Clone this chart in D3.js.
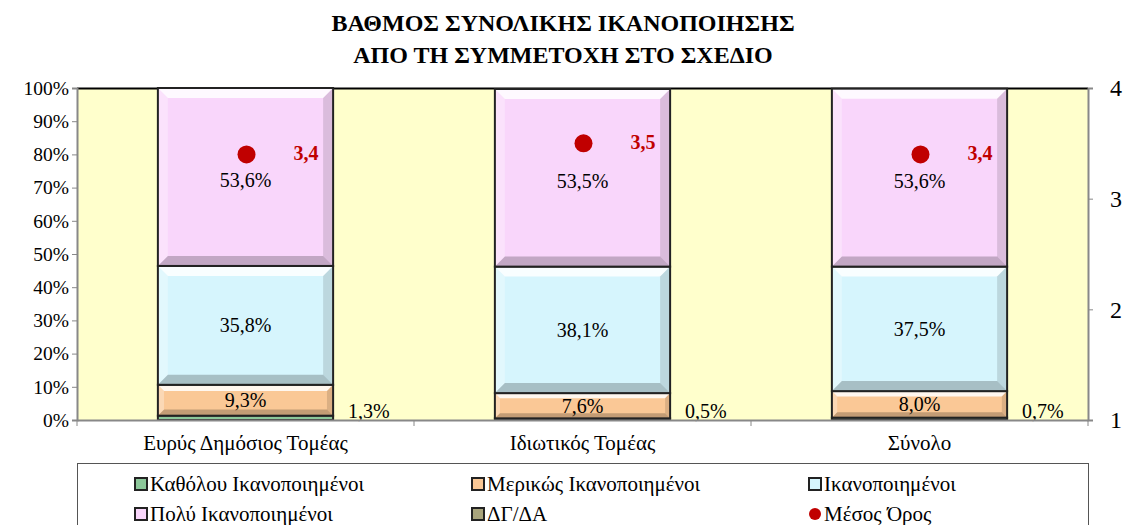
<!DOCTYPE html>
<html>
<head>
<meta charset="utf-8">
<script src="https://cdn.jsdelivr.net/npm/d3@7"></script>
<style>
body { margin: 0; background: #fff; }
</style>
</head>
<body>
<svg id="chart"></svg>
<script>
const categories = ["Ευρύς Δημόσιος Τομέας", "Ιδιωτικός Τομέας", "Σύνολο"];
const seriesNames = ["Καθόλου Ικανοποιημένοι", "Μερικώς Ικανοποιημένοι", "Ικανοποιημένοι", "Πολύ Ικανοποιημένοι", "ΔΓ/ΔΑ"];
const katholou = [1.3, 0.5, 0.7];
const merikos = [9.3, 7.6, 8.0];
const ikanopoiimenoi = [35.8, 38.1, 37.5];
const poly = [53.6, 53.5, 53.6];
const dgda = [0, 0, 0];
const mesosOros = [3.4, 3.5, 3.4];
const leftTicks = [0, 10, 20, 30, 40, 50, 60, 70, 80, 90, 100];
const rightTicks = [1, 2, 3, 4];

const colors = ["#8cc79a", "#fac896", "#d6f5fd", "#f9d6fb", "#a8a47c"];
const width = 1126, height = 525;
const margin = {top: 88, right: 38, bottom: 105, left: 77};
const w = width - margin.left - margin.right;
const h = height - margin.top - margin.bottom;
const serif = "Liberation Serif";

const loc = d3.formatLocale({decimal: ",", thousands: ".", grouping: [3], currency: ["", "€"]});
const fmt = loc.format(".1f");

const svg = d3.select("#chart").attr("width", width).attr("height", height);

// title
svg.append("text").attr("x", 563).attr("y", 31).attr("text-anchor", "middle")
	.style("font-size", "24px").style("font-weight", "bold").text("ΒΑΘΜΟΣ ΣΥΝΟΛΙΚΗΣ ΙΚΑΝΟΠΟΙΗΣΗΣ");
svg.append("text").attr("x", 563).attr("y", 63).attr("text-anchor", "middle")
	.style("font-size", "24px").style("font-weight", "bold").text("ΑΠΟ ΤΗ ΣΥΜΜΕΤΟΧΗ ΣΤΟ ΣΧΕΔΙΟ");

const g = svg.append("g").attr("transform", `translate(${margin.left},${margin.top})`);

const x = d3.scaleBand().domain(categories).range([0, w]).paddingInner(0).paddingOuter(0);
const y = d3.scaleLinear().domain([0, 100]).range([h, 0]);
const y2 = d3.scaleLinear().domain([1, 4]).range([h, 0]);

// plot area
g.append("rect").attr("width", w).attr("height", h).attr("fill", "#ffffcc");
g.append("line").attr("x1", 0).attr("x2", w).attr("y1", 0.5).attr("y2", 0.5).attr("stroke", "#000").attr("stroke-width", 2);

const rows = categories.map((c, i) => ({cat: c, s0: katholou[i], s1: merikos[i], s2: ikanopoiimenoi[i], s3: poly[i], s4: dgda[i]}));
const stack = d3.stack().keys(["s0", "s1", "s2", "s3", "s4"]);
const series = stack(rows);

const barW = x.bandwidth() * 0.52;
const bx = d => x(d.data.cat) + (x.bandwidth() - barW) / 2;

function bevel(sel, fill) {
	sel.each(function (d) {
		const x0 = bx(d), x1 = x0 + barW, yt = y(d[1]), yb = y(d[0]);
		const hh = yb - yt;
		if (hh <= 0) return;
		const gg = d3.select(this);
		gg.append("rect").attr("x", x0).attr("y", yt).attr("width", barW).attr("height", hh).attr("fill", fill);
		const b = Math.min(10, hh / 5);
		const poly4 = (pts, c, o) => gg.append("polygon").attr("points", pts.map(p => p.join(",")).join(" ")).attr("fill", c).attr("opacity", o);
		poly4([[x0, yt], [x1, yt], [x1 - b, yt + b], [x0 + b, yt + b]], "#fff", 0.85);
		poly4([[x0, yt], [x0 + b, yt + b], [x0 + b, yb - b], [x0, yb]], "#fff", 0.3);
		poly4([[x1, yt], [x1, yb], [x1 - b, yb - b], [x1 - b, yt + b]], "#000", 0.12);
		poly4([[x0, yb], [x0 + b, yb - b], [x1 - b, yb - b], [x1, yb]], "#000", 0.22);
		gg.append("rect").attr("x", x0).attr("y", yt).attr("width", barW).attr("height", hh)
			.attr("fill", "none").attr("stroke", "#222").attr("stroke-width", 2);
	});
}

series.forEach((s, k) => {
	g.append("g").selectAll("g").data(s).enter().append("g").call(sel => bevel(sel, colors[k]));
});

// value labels
series.forEach((s, k) => {
	if (k === 4) return;
	g.append("g").selectAll("text").data(s).enter().append("text")
		.attr("x", d => k === 0 ? bx(d) + barW + 15 : x(d.data.cat) + x.bandwidth() / 2)
		.attr("y", d => k === 0 ? y(0) - 2 : (k === 3 ? y((d[0] + d[1]) / 2) + 10 : y((d[0] + d[1]) / 2) + 7))
		.attr("text-anchor", k === 0 ? "start" : "middle")
		.style("font-size", "20px").attr("fill", "#000")
		.text(d => fmt(d[1] - d[0]) + "%");
});

// mean points
g.selectAll(".dot").data(mesosOros).enter().append("circle")
	.attr("cx", (d, i) => x(categories[i]) + x.bandwidth() / 2 + 1)
	.attr("cy", d => y2(d)).attr("r", 9).attr("fill", "#c00000");
g.selectAll(".mlab").data(mesosOros).enter().append("text")
	.attr("x", (d, i) => x(categories[i]) + x.bandwidth() / 2 + 48)
	.attr("y", d => y2(d) + 6).attr("fill", "#c00000")
	.style("font-size", "20px").style("font-weight", "bold").text(d => fmt(d));

// axes
const axL = g.append("g").call(d3.axisLeft(y).tickValues(leftTicks).tickSize(5).tickFormat(d => d + "%"));
axL.selectAll("text").style("font-size", "19.5px").attr("fill", "#000").attr("x", -8);
const axR = g.append("g").attr("transform", `translate(${w},0)`).call(d3.axisRight(y2).tickValues(rightTicks).tickSize(5).tickFormat(d3.format("d")));
axR.selectAll("text").style("font-size", "24px").attr("fill", "#000").attr("x", 22);
const axB = g.append("g").attr("transform", `translate(0,${h})`).call(d3.axisBottom(x).tickSize(0));
axB.selectAll("text").style("font-size", "21px").attr("fill", "#000").attr("y", 30).attr("dy", 0);
g.append("g").attr("transform", `translate(0,${h})`).selectAll("line")
	.data([0, 1, 2, 3]).enter().append("line")
	.attr("x1", d => d * x.bandwidth()).attr("x2", d => d * x.bandwidth())
	.attr("y1", 0).attr("y2", 6).attr("stroke", "#888");
[axL, axR, axB].forEach(a => { a.selectAll("path, line").attr("stroke", "#888"); a.select(".domain").attr("stroke-width", 2); });

// legend
const lg = svg.append("g").attr("transform", "translate(77,463)");
lg.append("rect").attr("x", 0.5).attr("y", 0.5).attr("width", 1011).attr("height", 70).attr("fill", "#fff").attr("stroke", "#555");
const legendItems = seriesNames.map((n, i) => ({name: n, color: colors[i], type: "sq"}));
legendItems.push({name: "Μέσος Όρος", color: "#c00000", type: "dot"});
const li = lg.selectAll(".li").data(legendItems).enter().append("g")
	.attr("transform", (d, i) => `translate(${58 + (i % 3) * 337},${21 + Math.floor(i / 3) * 30})`);
li.filter(d => d.type === "sq").append("rect").attr("x", 0).attr("y", -6).attr("width", 12).attr("height", 12)
	.attr("fill", d => d.color).attr("stroke", "#222").attr("stroke-width", 2);
li.filter(d => d.type === "dot").append("circle").attr("cx", 6).attr("cy", 0).attr("r", 6).attr("fill", d => d.color);
li.append("text").attr("x", 15).attr("y", 7).style("font-size", "21px").text(d => d.name);

// force serif on every text
svg.selectAll("text").attr("font-family", serif).style("font-family", serif);
</script>
</body>
</html>
